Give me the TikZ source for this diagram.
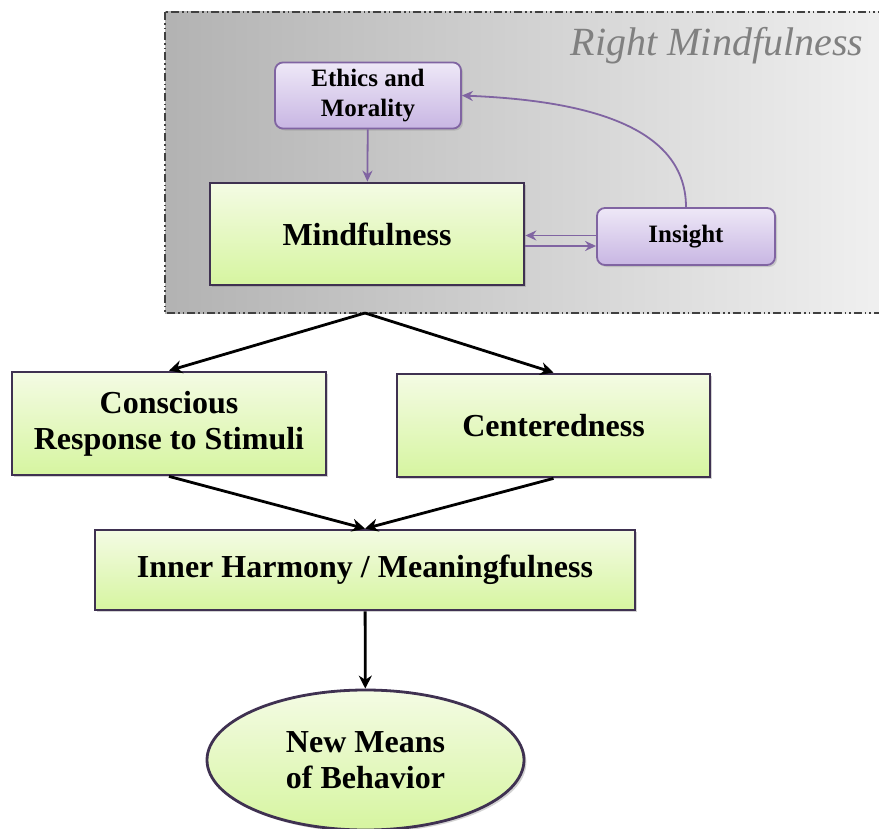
\documentclass[tikz,border=0pt]{standalone}
\usepackage{fontspec}
\setmainfont{Liberation Serif}
\usetikzlibrary{arrows.meta,shadows,shapes.geometric,calc}

\definecolor{boxline}{HTML}{3F3151}
\definecolor{greentop}{HTML}{F4FBE4}
\definecolor{greenbot}{HTML}{D6F5A0}
\definecolor{lilac}{HTML}{8064A2}
\definecolor{lilactop}{HTML}{EEE8F7}
\definecolor{lilacbot}{HTML}{C8B6E3}

\tikzset{
  greenbox/.style={draw=boxline, line width=1.4pt, top color=greentop, bottom color=greenbot,
    align=center, font=\fontsize{16}{18}\selectfont\bfseries,
    drop shadow={opacity=0.35, shadow xshift=1.2pt, shadow yshift=-1.2pt}},
  lilacbox/.style={draw=lilac, line width=0.9pt, rounded corners=4pt, top color=lilactop, bottom color=lilacbot,
    align=center, font=\fontsize{12.5}{15}\selectfont\bfseries,
    drop shadow={opacity=0.3, shadow xshift=1pt, shadow yshift=-1pt}},
  blackarr/.style={-{Stealth[length=6.5pt,width=6.5pt]}, line width=1.4pt},
  lilacarr/.style={-{Stealth[length=5.5pt,width=5pt]}, draw=lilac, line width=0.9pt},
}

\begin{document}
\begin{tikzpicture}[x=0.5pt,y=-0.5pt]
  \useasboundingbox (0,0) rectangle (879,829);

  % right mindfulness region
  \fill[left color=black!30, right color=black!6] (165,12) rectangle (881,313);
  \draw[black!75, line width=0.7pt, dash pattern=on 4pt off 1.5pt on 0.8pt off 1.5pt on 0.8pt off 1.5pt]
    (165,12) rectangle (881,313);
  \node[font=\fontsize{20}{24}\selectfont\itshape, text=black!50] (rmtitle) at (717,46) {Right Mindfulness};

  \node[lilacbox, minimum width=93pt, minimum height=32.5pt] (eth) at (368,95.5) {Ethics and\\Morality};
  \node[greenbox, minimum width=157pt, minimum height=51pt] (mind) at (367,234) {Mindfulness};
  \node[lilacbox, minimum width=89pt, minimum height=28.5pt] (ins) at (686,236.5) {Insight};

  \draw[lilacarr] (eth) -- (mind);
  \draw[lilacarr] (ins.north) .. controls (686,120) and (570,100) .. (eth.east);
  \draw[lilacarr] ($(ins.west)+(0,-1)$) coordinate (up) -- (up -| mind.east);
  \draw[lilacarr] ($(mind.east)+(0,12)$) coordinate (lo) -- (lo -| ins.west);

  % lower chain
  \coordinate (fork) at (365,313);
  \node[greenbox, minimum width=157pt, minimum height=51.5pt] (cons) at (169,423.5) {Conscious\\Response to Stimuli};
  \node[greenbox, minimum width=156.5pt, minimum height=51.5pt] (cent) at (553.5,425.5) {Centeredness};
  \node[greenbox, minimum width=270pt, minimum height=40pt] (inner) at (365,570) {Inner Harmony / Meaningfulness};
  \node[greenbox, ellipse, minimum width=158.5pt, minimum height=70pt, inner sep=0pt] (newm) at (365.5,760) {New Means\\of Behavior};

  \draw[blackarr] (fork) -- (cons.north);
  \draw[blackarr] (fork) -- (cent.north);
  \draw[blackarr] (cons.south) -- (inner.north);
  \draw[blackarr] (cent.south) -- (inner.north);
  \draw[blackarr] (inner) -- (newm);
\end{tikzpicture}
\end{document}
